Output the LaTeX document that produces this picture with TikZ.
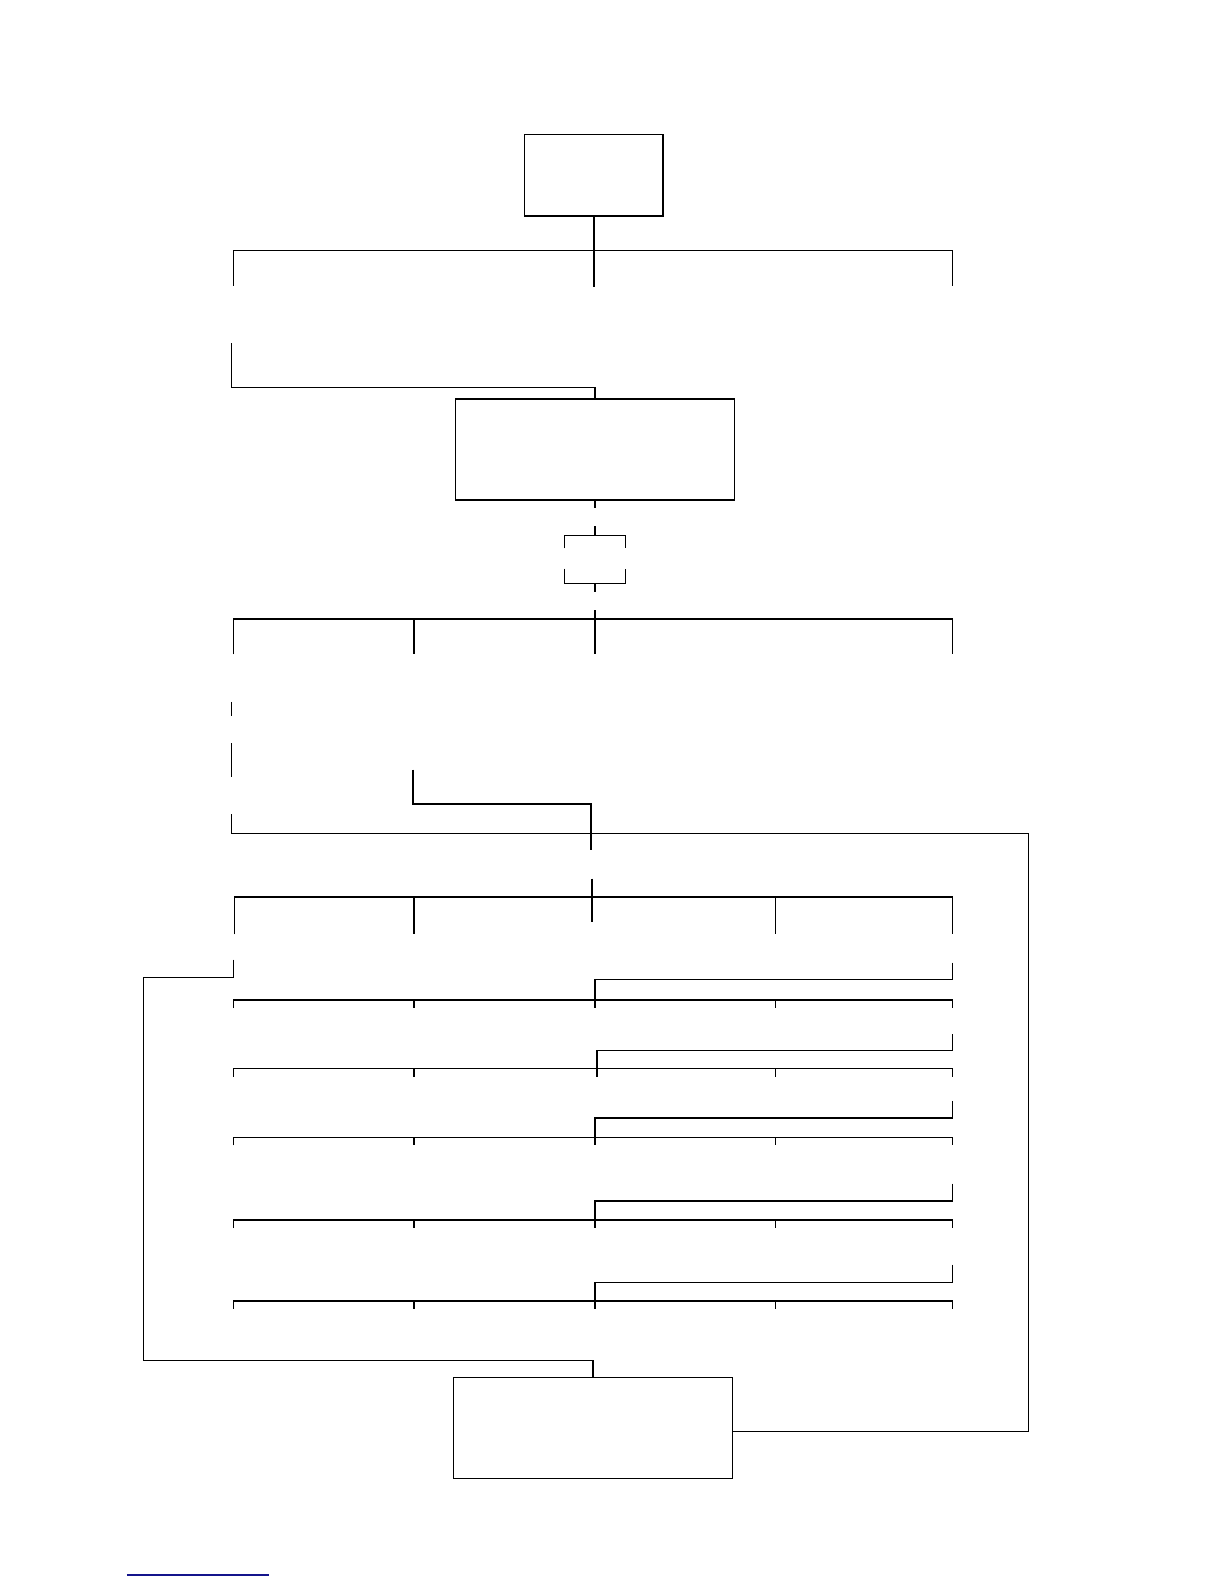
\documentclass[tikz,border=0pt]{standalone}
\usepackage{xcolor}
\definecolor{rulecol}{RGB}{20,20,140}
\begin{document}
\begin{tikzpicture}[x=0.505pt,y=-0.505pt,
  ln/.style={line width=0.65pt, line cap=butt, line join=miter},
  boxnode/.style={draw, line width=0.75pt, inner sep=0pt, outer sep=0pt},
]
\useasboundingbox (0,0) rectangle (1211.9,1568.3);
% boxes
\node[boxnode, minimum width=69.2pt, minimum height=40.9pt] (A) at (588,173.5) {};
\node[boxnode, minimum width=139.4pt, minimum height=50.5pt] (B) at (589,445) {};
\node[boxnode, minimum width=139.4pt, minimum height=50.5pt] (C) at (587,1414) {};

% first branch
\coordinate (t1) at (588,248);
\draw[ln] (A.south) -- (t1);
\draw[ln] (231,283) -- (231,248) -- (943,248) -- (943,283);
\draw[ln] (t1) -- (588,284);
\draw[ln] (229,340) -- (229,384) -- (B.north |- 0,384) -- (B.north);

% below B
\coordinate (b1) at (589,503);
\draw[ln] (B.south) -- (b1);
\draw[ln] (589,521) -- (589,530);
\draw[ln] (559,543) -- (559,530) -- (619,530) -- (619,543);
\draw[ln] (559,563) -- (559,578) -- (619,578) -- (619,563);
\draw[ln] (589,578) -- (589,586);

% second branch
\draw[ln] (589,604) -- (589,613);
\draw[ln] (231,648) -- (231,613) -- (943,613) -- (943,648);
\draw[ln] (410,613) -- (410,648);
\draw[ln] (589,613) -- (589,648);

% left stubs
\draw[ln] (229,695) -- (229,709);
\draw[ln] (229,736) -- (229,769);
\draw[ln] (229,806) -- (229,825);
\draw[ln] (409,762) -- (409,796) -- (585,796) -- (585,842);

% long feedback to C
\coordinate (fb) at (1018,825);
\draw[ln] (229,825) -- (fb) -- (1018,1417) -- (C.east |- 0,1417);

% third branch
\draw[ln] (586,870) -- (586,913);
\draw[ln] (232,925) -- (232,888) -- (943,888) -- (943,925);
\draw[ln] (410,888) -- (410,925);
\draw[ln] (768,888) -- (768,925);

% loop to C
\coordinate (lp) at (142,1347);
\draw[ln] (231,950) -- (231,968) -- (142,968) -- (lp) -- (C.north |- lp) -- (C.north);

% rows
\foreach \a/\b/\c/\m in {953/970/990/589, 1024/1040/1058/591, 1090/1107/1126/589, 1172/1189/1208/589, 1252/1270/1288/589}{
  \draw[ln] (943,\a) -- (943,\b) -- (\m,\b) -- (\m,\c+8);
  \draw[ln] (231,\c+8) -- (231,\c) -- (943,\c) -- (943,\c+8);
  \draw[ln] (410,\c) -- (410,\c+8);
  \draw[ln] (768,\c) -- (768,\c+8);
}

% footnote rule
\draw[rulecol, line width=1pt] (125.7,1559) -- (266,1559);
\end{tikzpicture}
\end{document}
